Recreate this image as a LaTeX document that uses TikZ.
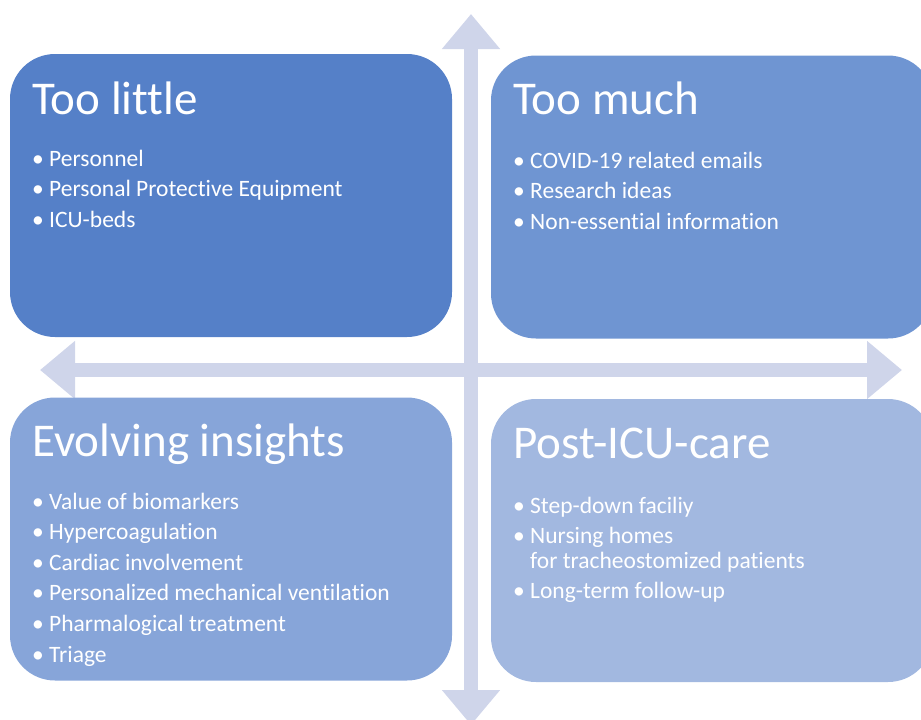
\documentclass[tikz,border=0pt]{standalone}
\usepackage{fontspec}
\setmainfont{Carlito}[Ligatures=NoCommon]
\usepackage{xcolor}
\usepackage{tikz}
\usetikzlibrary{arrows.meta,positioning}
\definecolor{littlefill}{HTML}{5580C8}
\definecolor{muchfill}{HTML}{6F95D2}
\definecolor{insightfill}{HTML}{87A5D9}
\definecolor{carefill}{HTML}{A2B8E0}
\definecolor{axisgray}{HTML}{CFD5EA}
\tikzset{
  quad/.style ={rounded corners=45pt,inner sep=0pt,minimum width=442pt,
                minimum height=283pt},
  ttl/.style  ={anchor=base west,inner sep=0pt,text=white,
                font=\fontsize{47}{56}\selectfont},
  itm/.style  ={anchor=base west,inner sep=0pt,text=white,
                font=\fontsize{23.5}{28}\selectfont},
  axis/.style ={draw=axisgray,line width=14pt,
                {Triangle[length=35pt,width=56pt]}-{Triangle[length=35pt,width=56pt]}}
}
\newcommand\blt{\makebox[17pt][l]{\textbullet}}

\begin{document}
\begin{tikzpicture}[x=1pt,y=-1pt]
  \useasboundingbox (0,0) rectangle (921,720);
  \clip (0,0) rectangle (921,720);
  % axes
  \coordinate (up) at (471,14);
  \coordinate (down) at (471,725);
  \coordinate (left) at (40,370);
  \coordinate (right) at (902,370);
  \draw[axis] (down) -- (up);
  \draw[axis] (left) -- (right);
  % quadrants
  \node[quad,fill=littlefill] (little) at (231,195.5) {};
  \node[quad,fill=muchfill] (much) at (712,197) {};
  \node[quad,fill=insightfill] (insights) at (231,539) {};
  \node[quad,fill=carefill] (postcare) at (712,540.5) {};
  \node[ttl] (little-t) at (32,114) {Too little};
  \node[ttl] (much-t) at (513,114) {Too much};
  \node[ttl] (insights-t) at (32,456) {Evolving insights};
  \node[ttl] (postcare-t) at (513,458) {Post-ICU-care};
  \foreach \t [count=\i] in {Personnel,Personal Protective Equipment,ICU-beds}
    \node[itm] (little-\i) at (32,{166+30.5*(\i-1)}) {\blt\t};
  \foreach \t [count=\i] in {COVID-19 related emails,Research ideas,
                             Non-essential information}
    \node[itm] (much-\i) at (513,{168+30.5*(\i-1)}) {\blt\t};
  \foreach \t [count=\i] in {Value of biomarkers,Hypercoagulation,
      Cardiac involvement,Personalized mechanical ventilation,
      Pharmalogical treatment,Triage}
    \node[itm] (insights-\i) at (32,{509+30.6*(\i-1)}) {\blt\t};
  \node[itm] (postcare-1) at (513,513) {\blt Step-down faciliy};
  \node[itm] (postcare-2) at (513,543) {\blt Nursing homes};
  \node[itm] (postcare-2b) at (530,568) {for tracheostomized patients};
  \node[itm] (postcare-3) at (513,598) {\blt Long-term follow-up};
\end{tikzpicture}
\end{document}
